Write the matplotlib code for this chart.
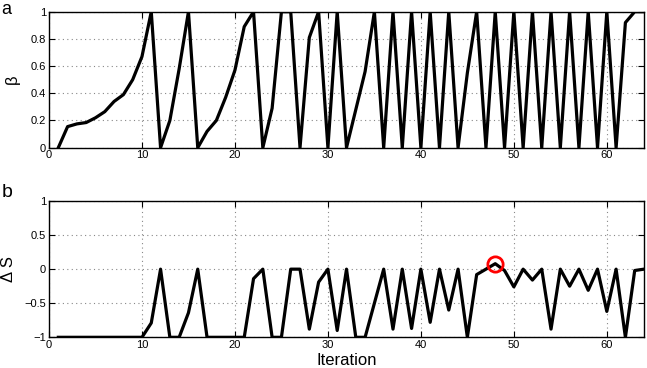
import numpy as np
import matplotlib
matplotlib.use("Agg")
import matplotlib.pyplot as plt

plt.rcParams['font.family'] = ['Liberation Sans', 'DejaVu Sans']

# iteration numbers
iteration = np.arange(1, 65)

# beta per iteration (panel a)
beta = [0, 0.155, 0.175, 0.185, 0.22, 0.265, 0.34, 0.39, 0.5, 0.67,
        1, 0, 0.2, 0.58, 1, 0, 0.12, 0.2, 0.37, 0.57,
        0.89, 1, 0, 0.29, 1, 1, 0, 0.81, 1, 0,
        1, 0, 0.28, 0.56, 1, 0, 1, 0, 1, 0,
        1, 0, 1, 0, 0.55, 1, 0, 1, 0, 1,
        0, 1, 0, 1, 0, 1, 0, 1, 0, 1,
        0, 0.92, 1, 1]

# change in S per iteration (panel b)
delta_s = [-1, -1, -1, -1, -1, -1, -1, -1, -1, -1,
           -0.79, 0, -1, -1, -0.64, 0, -1, -1, -1, -1,
           -1, -0.14, 0, -1, -1, 0, 0, -0.88, -0.19, 0,
           -0.9, 0, -1, -1, -0.5, 0, -0.88, 0, -0.87, 0,
           -0.78, 0, -0.6, 0, -1, -0.08, 0, 0.08, -0.02, -0.26,
           0, -0.16, 0, -0.88, 0, -0.25, 0, -0.31, 0, -0.62,
           0, -1, -0.02, 0]

# highlighted point
mark_x = 48
mark_y = 0.08

fig = plt.figure(figsize=(6.47, 3.68), dpi=100)
W, H = 647, 368
ax1 = fig.add_axes([49 / W, 1 - 147.7 / H, 595 / W, 136 / H])
ax2 = fig.add_axes([49 / W, 1 - 337.3 / H, 595 / W, 136.3 / H])

for ax in (ax1, ax2):
    ax.set_xlim(0, 64)
    ax.set_xticks(range(0, 61, 10))
    ax.grid(True, linestyle=(0, (1, 3)), color='#888888', linewidth=0.8)
    ax.tick_params(direction='in', top=True, right=True, labelsize=8, length=4, pad=2)
    for s in ax.spines.values():
        s.set_linewidth(1.0)

ax1.plot(iteration, beta, color='black', linewidth=2.3)
ax1.set_ylim(0, 1)
ax1.set_yticks([0, 0.2, 0.4, 0.6, 0.8, 1])
ax1.set_yticklabels(['0', '0.2', '0.4', '0.6', '0.8', '1'])
ax1.set_ylabel('β', fontsize=12, labelpad=8)

ax2.plot(iteration, delta_s, color='black', linewidth=2.3)
ax2.plot([mark_x], [mark_y], 'o', markersize=11, markerfacecolor='none',
         markeredgecolor='red', markeredgewidth=2)
ax2.set_ylim(-1, 1)
ax2.set_yticks([-1, -0.5, 0, 0.5, 1])
ax2.set_yticklabels(['\u22121', '\u22120.5', '0', '0.5', '1'])
ax2.set_ylabel('Δ S', fontsize=12, labelpad=6)
ax2.set_xlabel('Iteration', fontsize=12, labelpad=2)

fig.text(1 / W, 1 - 1 / H, 'a', fontsize=13, va='top', ha='left')
fig.text(2 / W, 1 - 197 / H, 'b', fontsize=14, va='baseline', ha='left')

fig.savefig('out.png', dpi=100)
